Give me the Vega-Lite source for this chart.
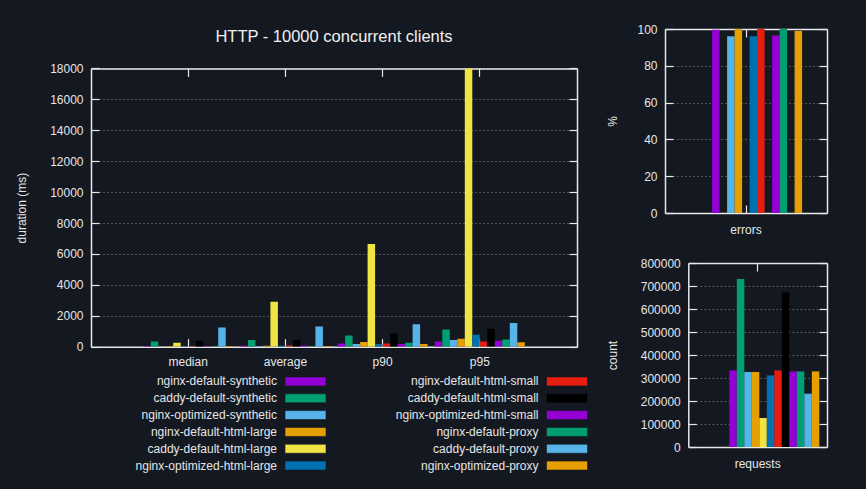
{
  "$schema": "https://vega.github.io/schema/vega-lite/v6.json",
  "background": "#141821",
  "padding": {"left": 15, "top": 22, "right": 40, "bottom": 20},
  "config": {
    "font": "Liberation Sans",
    "view": {"stroke": "transparent"},
    "axis": {
      "domain": true,
      "domainColor": "#e8e8e8",
      "domainWidth": 1.5,
      "labelColor": "#e6e6e6",
      "titleColor": "#e6e6e6",
      "labelFontSize": 12,
      "titleFontSize": 12,
      "titleFontWeight": "normal",
      "tickColor": "#e8e8e8",
      "tickWidth": 1.2,
      "gridColor": "#8c8c8c",
      "gridDash": [1, 3],
      "gridWidth": 1
    },
    "title": {"color": "#f0f0f0", "fontSize": 16.5, "fontWeight": "normal"}
  },
  "datasets": {
    "latency": [
      {"metric": "median", "server": "nginx-default-synthetic", "ms": 40},
      {"metric": "median", "server": "caddy-default-synthetic", "ms": 330},
      {"metric": "median", "server": "nginx-optimized-synthetic", "ms": 30},
      {"metric": "median", "server": "nginx-default-html-large", "ms": 40},
      {"metric": "median", "server": "caddy-default-html-large", "ms": 250},
      {"metric": "median", "server": "nginx-optimized-html-large", "ms": 30},
      {"metric": "median", "server": "nginx-default-html-small", "ms": 30},
      {"metric": "median", "server": "caddy-default-html-small", "ms": 380},
      {"metric": "median", "server": "nginx-optimized-html-small", "ms": 40},
      {"metric": "median", "server": "nginx-default-proxy", "ms": 30},
      {"metric": "median", "server": "caddy-default-proxy", "ms": 1240},
      {"metric": "median", "server": "nginx-optimized-proxy", "ms": 40},
      {"metric": "average", "server": "nginx-default-synthetic", "ms": 60},
      {"metric": "average", "server": "caddy-default-synthetic", "ms": 430},
      {"metric": "average", "server": "nginx-optimized-synthetic", "ms": 40},
      {"metric": "average", "server": "nginx-default-html-large", "ms": 60},
      {"metric": "average", "server": "caddy-default-html-large", "ms": 2900},
      {"metric": "average", "server": "nginx-optimized-html-large", "ms": 60},
      {"metric": "average", "server": "nginx-default-html-small", "ms": 80},
      {"metric": "average", "server": "caddy-default-html-small", "ms": 450},
      {"metric": "average", "server": "nginx-optimized-html-small", "ms": 70},
      {"metric": "average", "server": "nginx-default-proxy", "ms": 30},
      {"metric": "average", "server": "caddy-default-proxy", "ms": 1310},
      {"metric": "average", "server": "nginx-optimized-proxy", "ms": 40},
      {"metric": "p90", "server": "nginx-default-synthetic", "ms": 215},
      {"metric": "p90", "server": "caddy-default-synthetic", "ms": 730},
      {"metric": "p90", "server": "nginx-optimized-synthetic", "ms": 172},
      {"metric": "p90", "server": "nginx-default-html-large", "ms": 300},
      {"metric": "p90", "server": "caddy-default-html-large", "ms": 6650},
      {"metric": "p90", "server": "nginx-optimized-html-large", "ms": 170},
      {"metric": "p90", "server": "nginx-default-html-small", "ms": 215},
      {"metric": "p90", "server": "caddy-default-html-small", "ms": 860},
      {"metric": "p90", "server": "nginx-optimized-html-small", "ms": 172},
      {"metric": "p90", "server": "nginx-default-proxy", "ms": 258},
      {"metric": "p90", "server": "caddy-default-proxy", "ms": 1460},
      {"metric": "p90", "server": "nginx-optimized-proxy", "ms": 172},
      {"metric": "p95", "server": "nginx-default-synthetic", "ms": 344},
      {"metric": "p95", "server": "caddy-default-synthetic", "ms": 1120},
      {"metric": "p95", "server": "nginx-optimized-synthetic", "ms": 430},
      {"metric": "p95", "server": "nginx-default-html-large", "ms": 516},
      {"metric": "p95", "server": "caddy-default-html-large", "ms": 19500},
      {"metric": "p95", "server": "nginx-optimized-html-large", "ms": 774},
      {"metric": "p95", "server": "nginx-default-html-small", "ms": 344},
      {"metric": "p95", "server": "caddy-default-html-small", "ms": 1160},
      {"metric": "p95", "server": "nginx-optimized-html-small", "ms": 387},
      {"metric": "p95", "server": "nginx-default-proxy", "ms": 473},
      {"metric": "p95", "server": "caddy-default-proxy", "ms": 1527},
      {"metric": "p95", "server": "nginx-optimized-proxy", "ms": 280}
    ],
    "totals": [
      {"server": "nginx-default-synthetic", "errors": 99.6, "requests": 333000},
      {"server": "caddy-default-synthetic", "errors": 0, "requests": 730400},
      {"server": "nginx-optimized-synthetic", "errors": 96, "requests": 326000},
      {"server": "nginx-default-html-large", "errors": 100, "requests": 326000},
      {"server": "caddy-default-html-large", "errors": 0, "requests": 126000},
      {"server": "nginx-optimized-html-large", "errors": 96, "requests": 311300},
      {"server": "nginx-default-html-small", "errors": 100, "requests": 333000},
      {"server": "caddy-default-html-small", "errors": 0, "requests": 672200},
      {"server": "nginx-optimized-html-small", "errors": 96.4, "requests": 328700},
      {"server": "nginx-default-proxy", "errors": 100, "requests": 328700},
      {"server": "caddy-default-proxy", "errors": 0, "requests": 231700},
      {"server": "nginx-optimized-proxy", "errors": 98.9, "requests": 328700}
    ]
  },
  "columns": 2,
  "align": "none",
  "spacing": 16,
  "concat": [
    {
      "spacing": 3,
      "vconcat": [
        {
          "width": 486,
          "height": 317.7,
          "title": {"text": "HTTP - 10000 concurrent clients", "offset": -16},
          "data": {"name": "latency"},
          "layer": [
            {
              "mark": {"type": "bar", "clip": true},
              "encoding": {
                "x": {"field": "metric", "type": "nominal", "sort": ["median", "average", "p90", "p95"],
                  "scale": {"paddingInner": 0, "paddingOuter": 0.5},
                  "axis": {"title": null, "labelAngle": 0, "tickSize": -8, "labelPadding": 18}},
                "xOffset": {"field": "server", "type": "nominal",
                  "sort": ["nginx-default-synthetic", "caddy-default-synthetic", "nginx-optimized-synthetic", "nginx-default-html-large", "caddy-default-html-large", "nginx-optimized-html-large", "nginx-default-html-small", "caddy-default-html-small", "nginx-optimized-html-small", "nginx-default-proxy", "caddy-default-proxy", "nginx-optimized-proxy"],
                  "scale": {"paddingInner": 0, "paddingOuter": 0.48}},
                "y": {"field": "ms", "type": "quantitative", "scale": {"domain": [0, 18000], "nice": false, "clamp": true, "range": [317.7, 39.4]},
                  "axis": {"title": "duration (ms)", "format": "d", "values": [0, 2000, 4000, 6000, 8000, 10000, 12000, 14000, 16000, 18000], "grid": true, "tickSize": -8, "labelPadding": 16, "titlePadding": 21}},
                "color": {"field": "server", "type": "nominal", "legend": null,
                  "scale": {
                    "domain": ["nginx-default-synthetic", "caddy-default-synthetic", "nginx-optimized-synthetic", "nginx-default-html-large", "caddy-default-html-large", "nginx-optimized-html-large", "nginx-default-html-small", "caddy-default-html-small", "nginx-optimized-html-small", "nginx-default-proxy", "caddy-default-proxy", "nginx-optimized-proxy"],
                    "range": ["#9400d3", "#009e73", "#56b4e9", "#e69f00", "#f0e442", "#0072b2", "#e51e10", "#000000", "#9400d3", "#009e73", "#56b4e9", "#e69f00"]}}
              }
            },
            {
              "mark": {"type": "point", "opacity": 0, "clip": true},
              "encoding": {
                "x": {"field": "metric", "type": "nominal", "sort": ["median", "average", "p90", "p95"],
                  "axis": {"orient": "top", "labels": false, "title": null, "tickSize": -8, "offset": -39.4}},
                "y": {"field": "ms", "type": "quantitative",
                  "axis": {"orient": "right", "labels": false, "title": null, "grid": false, "tickSize": -8, "values": [0, 2000, 4000, 6000, 8000, 10000, 12000, 14000, 16000, 18000]}}
              }
            }
          ],
          "resolve": {"axis": {"x": "independent", "y": "independent"}}
        },
        {
          "width": 496,
          "height": 101,
          "data": {"name": "totals"},
          "layer": [
            {
              "transform": [{"filter": {"field": "server", "oneOf": ["nginx-default-synthetic", "caddy-default-synthetic", "nginx-optimized-synthetic", "nginx-default-html-large", "caddy-default-html-large", "nginx-optimized-html-large"]}}],
              "encoding": {
                "x": {"datum": "left", "type": "nominal", "scale": {"type": "point", "padding": 0, "domain": ["left", "right"], "range": [214.5, 476]}, "axis": null},
                "y": {"field": "server", "type": "nominal", "sort": ["nginx-default-synthetic", "caddy-default-synthetic", "nginx-optimized-synthetic", "nginx-default-html-large", "caddy-default-html-large", "nginx-optimized-html-large"], "scale": {"type": "point", "padding": 0.5}, "axis": null}
              },
              "layer": [
                {
                  "mark": {"type": "point", "shape": "M-1,-0.22H1V0.22H-1Z", "filled": true, "opacity": 1, "size": 1681, "stroke": "#141821", "strokeWidth": 0.6},
                  "encoding": {"color": {"field": "server", "type": "nominal", "legend": null,
                    "scale": {
                      "domain": ["nginx-default-synthetic", "caddy-default-synthetic", "nginx-optimized-synthetic", "nginx-default-html-large", "caddy-default-html-large", "nginx-optimized-html-large", "nginx-default-html-small", "caddy-default-html-small", "nginx-optimized-html-small", "nginx-default-proxy", "caddy-default-proxy", "nginx-optimized-proxy"],
                      "range": ["#9400d3", "#009e73", "#56b4e9", "#e69f00", "#f0e442", "#0072b2", "#e51e10", "#000000", "#9400d3", "#009e73", "#56b4e9", "#e69f00"]}}}
                },
                {
                  "mark": {"type": "text", "align": "right", "baseline": "middle", "dx": -28.5, "fontSize": 12, "color": "#e6e6e6"},
                  "encoding": {"text": {"field": "server"}}
                }
              ]
            },
            {
              "transform": [{"filter": {"field": "server", "oneOf": ["nginx-default-html-small", "caddy-default-html-small", "nginx-optimized-html-small", "nginx-default-proxy", "caddy-default-proxy", "nginx-optimized-proxy"]}}],
              "encoding": {
                "x": {"datum": "right", "type": "nominal", "scale": {"type": "point", "padding": 0, "domain": ["left", "right"], "range": [214.5, 476]}, "axis": null},
                "y": {"field": "server", "type": "nominal", "sort": ["nginx-default-html-small", "caddy-default-html-small", "nginx-optimized-html-small", "nginx-default-proxy", "caddy-default-proxy", "nginx-optimized-proxy"], "scale": {"type": "point", "padding": 0.5}, "axis": null}
              },
              "layer": [
                {
                  "mark": {"type": "point", "shape": "M-1,-0.22H1V0.22H-1Z", "filled": true, "opacity": 1, "size": 1681, "stroke": "#141821", "strokeWidth": 0.6},
                  "encoding": {"color": {"field": "server", "type": "nominal", "legend": null,
                    "scale": {
                      "domain": ["nginx-default-synthetic", "caddy-default-synthetic", "nginx-optimized-synthetic", "nginx-default-html-large", "caddy-default-html-large", "nginx-optimized-html-large", "nginx-default-html-small", "caddy-default-html-small", "nginx-optimized-html-small", "nginx-default-proxy", "caddy-default-proxy", "nginx-optimized-proxy"],
                      "range": ["#9400d3", "#009e73", "#56b4e9", "#e69f00", "#f0e442", "#0072b2", "#e51e10", "#000000", "#9400d3", "#009e73", "#56b4e9", "#e69f00"]}}}
                },
                {
                  "mark": {"type": "text", "align": "right", "baseline": "middle", "dx": -28.5, "fontSize": 12, "color": "#e6e6e6"},
                  "encoding": {"text": {"field": "server"}}
                }
              ]
            }
          ],
          "resolve": {"scale": {"y": "independent"}}
        }
      ]
    },
    {
      "columns": 1,
      "align": "none",
      "spacing": 20,
      "concat": [
        {
          "width": 162,
          "height": 184,
          "data": {"name": "totals"},
          "layer": [
            {
              "mark": "bar",
              "encoding": {
                "x": {"datum": "errors", "type": "nominal", "scale": {"paddingInner": 0, "paddingOuter": 0.58},
                  "axis": {"title": null, "labelAngle": 0, "tickSize": -8, "labelPadding": 19}},
                "xOffset": {"field": "server", "type": "nominal",
                  "sort": ["nginx-default-synthetic", "caddy-default-synthetic", "nginx-optimized-synthetic", "nginx-default-html-large", "caddy-default-html-large", "nginx-optimized-html-large", "nginx-default-html-small", "caddy-default-html-small", "nginx-optimized-html-small", "nginx-default-proxy", "caddy-default-proxy", "nginx-optimized-proxy"],
                  "scale": {"paddingInner": 0, "paddingOuter": 0}},
                "y": {"field": "errors", "type": "quantitative", "scale": {"domain": [0, 100], "nice": false},
                  "axis": {"title": "%", "values": [0, 20, 40, 60, 80, 100], "grid": true, "tickSize": -8, "labelPadding": 16, "titlePadding": 17}},
                "color": {"field": "server", "type": "nominal", "legend": null,
                  "scale": {
                    "domain": ["nginx-default-synthetic", "caddy-default-synthetic", "nginx-optimized-synthetic", "nginx-default-html-large", "caddy-default-html-large", "nginx-optimized-html-large", "nginx-default-html-small", "caddy-default-html-small", "nginx-optimized-html-small", "nginx-default-proxy", "caddy-default-proxy", "nginx-optimized-proxy"],
                    "range": ["#9400d3", "#009e73", "#56b4e9", "#e69f00", "#f0e442", "#0072b2", "#e51e10", "#000000", "#9400d3", "#009e73", "#56b4e9", "#e69f00"]}}
              }
            },
            {
              "mark": {"type": "point", "opacity": 0, "clip": true},
              "encoding": {
                "x": {"datum": "errors", "type": "nominal", "axis": {"orient": "top", "labels": false, "title": null, "tickSize": -8}},
                "y": {"field": "errors", "type": "quantitative",
                  "axis": {"orient": "right", "labels": false, "title": null, "grid": false, "tickSize": -8, "values": [0, 20, 40, 60, 80, 100]}}
              }
            }
          ],
          "resolve": {"axis": {"x": "independent", "y": "independent"}}
        },
        {
          "width": 162,
          "height": 184,
          "data": {"name": "totals"},
          "layer": [
            {
              "mark": "bar",
              "encoding": {
                "x": {"datum": "requests", "type": "nominal", "scale": {"paddingInner": 0, "paddingOuter": 0.586, "range": [23.3, 162]},
                  "axis": {"title": null, "labelAngle": 0, "tickSize": -8, "labelPadding": 19}},
                "xOffset": {"field": "server", "type": "nominal",
                  "sort": ["nginx-default-synthetic", "caddy-default-synthetic", "nginx-optimized-synthetic", "nginx-default-html-large", "caddy-default-html-large", "nginx-optimized-html-large", "nginx-default-html-small", "caddy-default-html-small", "nginx-optimized-html-small", "nginx-default-proxy", "caddy-default-proxy", "nginx-optimized-proxy"],
                  "scale": {"paddingInner": 0, "paddingOuter": 0}},
                "y": {"field": "requests", "type": "quantitative", "scale": {"domain": [0, 800000], "nice": false},
                  "axis": {"title": "count", "format": "d", "values": [0, 100000, 200000, 300000, 400000, 500000, 600000, 700000, 800000], "grid": true, "tickSize": -8, "labelPadding": 16, "titlePadding": 20.3, "offset": -23.3}},
                "color": {"field": "server", "type": "nominal", "legend": null,
                  "scale": {
                    "domain": ["nginx-default-synthetic", "caddy-default-synthetic", "nginx-optimized-synthetic", "nginx-default-html-large", "caddy-default-html-large", "nginx-optimized-html-large", "nginx-default-html-small", "caddy-default-html-small", "nginx-optimized-html-small", "nginx-default-proxy", "caddy-default-proxy", "nginx-optimized-proxy"],
                    "range": ["#9400d3", "#009e73", "#56b4e9", "#e69f00", "#f0e442", "#0072b2", "#e51e10", "#000000", "#9400d3", "#009e73", "#56b4e9", "#e69f00"]}}
              }
            },
            {
              "mark": {"type": "point", "opacity": 0, "clip": true},
              "encoding": {
                "x": {"datum": "requests", "type": "nominal", "axis": {"orient": "top", "labels": false, "title": null, "tickSize": -8}},
                "y": {"field": "requests", "type": "quantitative",
                  "axis": {"orient": "right", "labels": false, "title": null, "grid": false, "tickSize": -8, "values": [0, 100000, 200000, 300000, 400000, 500000, 600000, 700000, 800000]}}
              }
            }
          ],
          "resolve": {"axis": {"x": "independent", "y": "independent"}}
        }
      ]
    }
  ]
}
